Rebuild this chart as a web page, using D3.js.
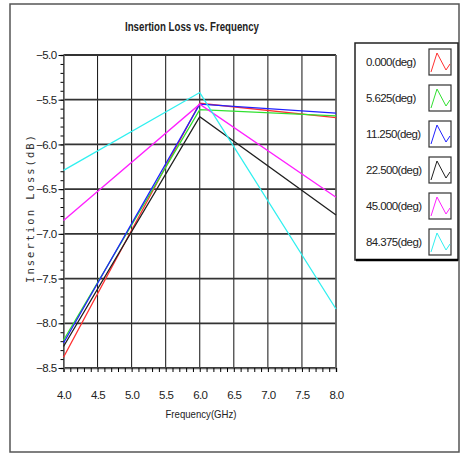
<!DOCTYPE html>
<html>
<head>
<meta charset="utf-8">
<script src="https://cdn.jsdelivr.net/npm/d3@7"></script>
<style>
  body { margin: 0; background: #fff; }
  text { font-family: "Liberation Sans", Arial, sans-serif; fill: #222; }
</style>
</head>
<body>
<script>
// data (3 frequency points per trace)
var freqs = [4.0, 6.0, 8.0];
var names = ["0.000(deg)", "5.625(deg)", "11.250(deg)", "22.500(deg)", "45.000(deg)", "84.375(deg)"];
var colors = ["#ff3030", "#30e030", "#2020ff", "#202020", "#ff20ff", "#30f0f0"];
var loss0 = [-8.38, -5.54, -5.70];
var loss5 = [-8.19, -5.61, -5.68];
var loss11 = [-8.22, -5.55, -5.65];
var loss22 = [-8.26, -5.69, -6.79];
var loss45 = [-6.85, -5.55, -6.59];
var loss84 = [-6.29, -5.42, -7.84];
var xTicks = [4.0, 4.5, 5.0, 5.5, 6.0, 6.5, 7.0, 7.5, 8.0];
var yTicks = [-5.0, -5.5, -6.0, -6.5, -7.0, -7.5, -8.0, -8.5];

var series = [loss0, loss5, loss11, loss22, loss45, loss84];

var svg = d3.select("body").append("svg")
  .attr("width", 461)
  .attr("height", 455);

// outer frame
svg.append("rect")
  .attr("x", 10).attr("y", 4).attr("width", 449).attr("height", 448)
  .style("fill", "#fff").style("stroke", "#555").style("stroke-width", 1.5);

var x = d3.scaleLinear().domain([4, 8]).range([63.5, 336]);
var y = d3.scaleLinear().domain([-5, -8.5]).range([55, 368]);

// title
svg.append("text")
  .attr("x", 192).attr("y", 31)
  .attr("text-anchor", "middle")
  .attr("textLength", 134).attr("lengthAdjust", "spacingAndGlyphs")
  .style("font-size", "12.5px").style("font-weight", "bold")
  .text("Insertion Loss vs. Frequency");

// grid
svg.selectAll(".vgrid").data(xTicks).enter().append("line")
  .attr("x1", function(d){ return x(d); }).attr("x2", function(d){ return x(d); })
  .attr("y1", y(-5)).attr("y2", y(-8.5))
  .style("stroke", "#111").style("stroke-width", 1);

svg.selectAll(".hgrid").data(yTicks).enter().append("line")
  .attr("x1", x(4)).attr("x2", x(8))
  .attr("y1", function(d){ return y(d); }).attr("y2", function(d){ return y(d); })
  .style("stroke", "#333").style("stroke-width", 1.8);

// axes with minor ticks
var xAxis = d3.axisBottom(x).tickValues(d3.range(40, 81).map(function(v){ return v / 10; }))
  .tickSize(4).tickFormat("");
svg.append("g").attr("transform", "translate(0," + y(-8.5) + ")").call(xAxis)
  .call(function(g){ g.select(".domain").style("stroke", "#666").style("stroke-width", 1.5); });

var xLabels = d3.axisBottom(x).tickValues(xTicks).tickSize(0).tickPadding(23)
  .tickFormat(d3.format(".1f"));
svg.append("g").attr("transform", "translate(0," + y(-8.5) + ")").call(xLabels)
  .call(function(g){ g.select(".domain").remove(); })
  .selectAll("text").style("font-size", "11.5px").style("letter-spacing", "-0.6px").style("font-family", null);

var yAxis = d3.axisLeft(y).tickValues(d3.range(-85, -49).map(function(v){ return v / 10; }))
  .tickSize(3).tickFormat("");
svg.append("g").attr("transform", "translate(" + x(4) + ",0)").call(yAxis)
  .call(function(g){ g.select(".domain").style("stroke", "#666").style("stroke-width", 1.5); });

var yLabels = d3.axisLeft(y).tickValues(yTicks).tickSize(5).tickPadding(2)
  .tickFormat(d3.format(".1f"));
svg.append("g").attr("transform", "translate(" + x(4) + ",0)").call(yLabels)
  .call(function(g){ g.select(".domain").remove(); })
  .selectAll("text").style("font-size", "11.5px").style("letter-spacing", "-0.6px").style("font-family", null);

svg.selectAll(".tick text").style("fill", "#222");

// right border of plot
svg.append("line")
  .attr("x1", x(8)).attr("x2", x(8)).attr("y1", y(-5)).attr("y2", y(-8.5))
  .style("stroke", "#666").style("stroke-width", 1.5);

// axis titles
svg.append("text")
  .attr("x", 201).attr("y", 418)
  .attr("text-anchor", "middle")
  .attr("textLength", 71).attr("lengthAdjust", "spacingAndGlyphs")
  .style("font-size", "11.5px")
  .text("Frequency(GHz)");

svg.append("text")
  .attr("transform", "translate(34,208) rotate(-90)")
  .attr("text-anchor", "middle")
  .style("font-family", "'DejaVu Sans Mono', monospace")
  .style("font-size", "10.5px").style("letter-spacing", "2px")
  .style("fill", "#333")
  .text("Insertion Loss(dB)");

// traces
var line = d3.line()
  .x(function(d, i){ return x(freqs[i]); })
  .y(function(d){ return y(d); });

svg.selectAll(".trace").data(series).enter().append("path")
  .attr("d", line)
  .style("fill", "none")
  .style("stroke", function(d, i){ return colors[i]; })
  .style("stroke-width", 1.3);

// legend
svg.append("rect")
  .attr("x", 355).attr("y", 43).attr("width", 103).attr("height", 217)
  .style("fill", "#fff").style("stroke", "#222").style("stroke-width", 1.5);
svg.append("line")
  .attr("x1", 356).attr("x2", 458).attr("y1", 260).attr("y2", 260)
  .style("stroke", "#000").style("stroke-width", 2.5);

var rowY = d3.scaleLinear().domain([0, 5]).range([62, 242]);
var icon = d3.line();

var rows = svg.selectAll(".leg").data(names).enter().append("g")
  .attr("transform", function(d, i){ return "translate(0," + rowY(i) + ")"; });

rows.append("text")
  .attr("x", 366).attr("y", 4)
  .style("font-size", "11.5px").style("letter-spacing", "-0.6px")
  .text(function(d){ return d; });

rows.append("rect")
  .attr("x", 429).attr("y", -13).attr("width", 22).attr("height", 26)
  .style("fill", "#fff").style("stroke", "#333").style("stroke-width", 1.2);

rows.append("path")
  .attr("d", icon([[431, 10], [437, -9], [446, 8], [450, 2]]))
  .style("fill", "none")
  .style("stroke", function(d, i){ return colors[i]; })
  .style("stroke-width", 1);
</script>
</body>
</html>
